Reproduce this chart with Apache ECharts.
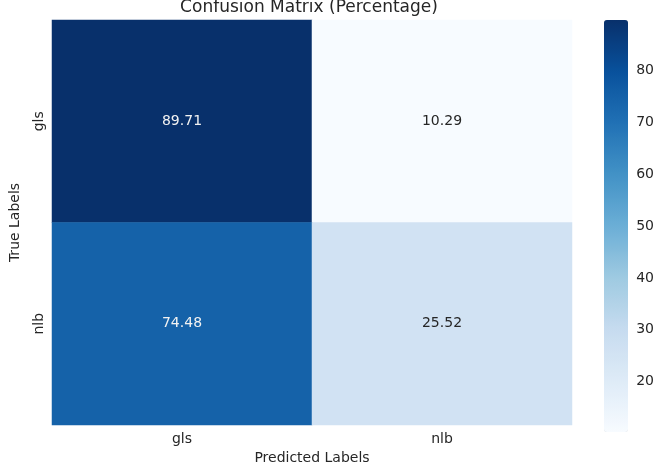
<!DOCTYPE html>
<html>
<head>
<meta charset="utf-8">
<script src="https://cdn.jsdelivr.net/npm/echarts@6/dist/echarts.min.js"></script>
<style>
  html, body { margin: 0; padding: 0; background: #fff; }
  #chart { width: 657px; height: 470px; }
</style>
</head>
<body>
<div id="chart"></div>
<script>
// confusion matrix values (rows = true labels, cols = predicted)
var classes = ['gls', 'nlb'];
var rowGls = [89.71, 10.29];
var rowNlb = [74.48, 25.52];
var cbTicks = [20, 30, 40, 50, 60, 70, 80];

var blues = ['#f7fbff', '#deebf7', '#c6dbef', '#9ecae1', '#6baed6', '#4292c6', '#2171b5', '#08519c', '#08306b'];
var vmin = 10.29, vmax = 89.71;

var rows = [rowGls, rowNlb];
var data = [];
rows.forEach(function (r, i) {
  r.forEach(function (v, j) {
    var frac = (v - vmin) / (vmax - vmin);
    data.push({
      value: [j, i, v],
      label: { color: frac > 0.5 ? '#f2f2f2' : '#262626' }
    });
  });
});

var font = 'DejaVu Sans';
var txt = '#262626';
var myChart = echarts.init(document.getElementById('chart'));
var option = {
  animation: false,
  backgroundColor: '#fff',
  textStyle: { fontFamily: font },
  title: {
    text: 'Confusion Matrix (Percentage)',
    left: 309, top: -1, textAlign: 'center', padding: 0,
    textStyle: { fontFamily: font, fontSize: 17, fontWeight: 'normal', color: txt }
  },
  grid: [
    { left: 46, right: 85, top: 20, bottom: 38 },
    { left: 604, width: 24, top: 20, bottom: 38 }
  ],
  xAxis: [{
    type: 'category', data: classes, gridIndex: 0,
    name: 'Predicted Labels', nameLocation: 'middle', nameGap: 26,
    nameTextStyle: { fontFamily: font, fontSize: 14, color: txt },
    axisLine: { show: false },
    axisTick: { alignWithLabel: true, length: 5, lineStyle: { color: txt } },
    axisLabel: { fontFamily: font, fontSize: 14, color: txt, margin: 7 },
    splitLine: { show: false }
  }, {
    type: 'value', gridIndex: 1, min: 0, max: 1, show: false
  }],
  yAxis: [{
    type: 'category', data: classes, gridIndex: 0, inverse: true,
    name: 'True Labels', nameLocation: 'middle', nameGap: 30, nameRotate: 90,
    nameTextStyle: { fontFamily: font, fontSize: 14, color: txt },
    axisLine: { show: false },
    axisTick: { alignWithLabel: true, length: 5, lineStyle: { color: txt } },
    axisLabel: { fontFamily: font, fontSize: 14, color: txt, rotate: 90, margin: 6 },
    splitLine: { show: false }
  }, {
    type: 'value', gridIndex: 1, position: 'right', min: vmin, max: vmax,
    axisLine: { show: false },
    axisTick: { show: true, length: 5, customValues: cbTicks, lineStyle: { color: txt } },
    axisLabel: { fontFamily: font, fontSize: 14, color: txt, margin: 10, customValues: cbTicks },
    splitLine: { show: false }
  }],
  visualMap: {
    type: 'continuous', min: vmin, max: vmax, seriesIndex: 0,
    calculable: false, hoverLink: false, realtime: false,
    orient: 'vertical', left: 604, top: 20, padding: 0,
    itemWidth: 24, itemHeight: 412, text: ['', ''], showLabel: false,
    inRange: { color: blues }
  },
  series: [{
    type: 'heatmap', xAxisIndex: 0, yAxisIndex: 0,
    data: data,
    label: {
      show: true, fontFamily: font, fontSize: 14,
      formatter: function (p) { return p.value[2].toFixed(2); }
    },
    itemStyle: { borderWidth: 0 },
    emphasis: { disabled: true }
  }, {
    type: 'scatter', xAxisIndex: 1, yAxisIndex: 1, data: [], silent: true
  }]
};
myChart.setOption(option);
</script>
</body>
</html>
